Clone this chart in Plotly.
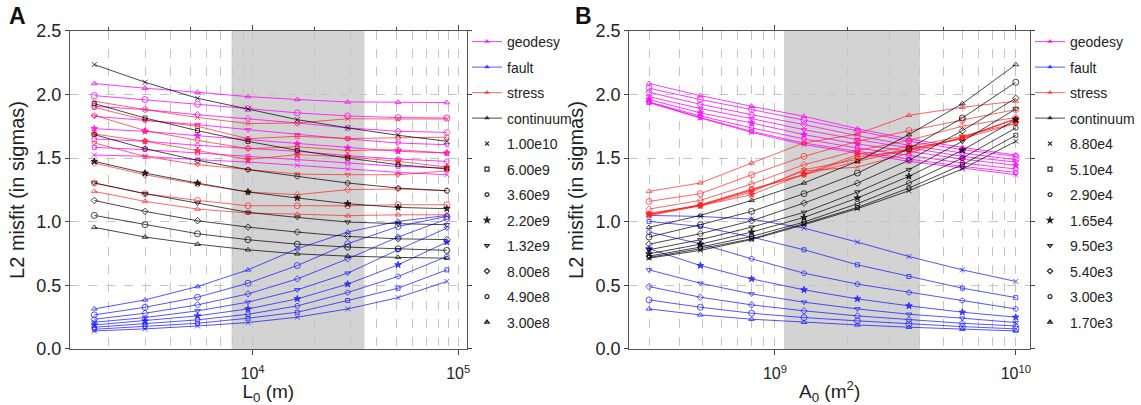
import plotly.graph_objects as go

# ---------------- data ----------------
L0_vals = [1.7e3, 3.0e3, 5.4e3, 9.5e3, 1.65e4, 2.9e4, 5.1e4, 8.8e4]
A0_vals = [3.0e8, 4.9e8, 8.0e8, 1.32e9, 2.2e9, 3.6e9, 6.0e9, 1.0e10]
L0_labels = ["1.70e3", "3.00e3", "5.40e3", "9.50e3", "1.65e4", "2.90e4", "5.10e4", "8.80e4"]
A0_labels = ["3.00e8", "4.90e8", "8.00e8", "1.32e9", "2.20e9", "3.60e9", "6.00e9", "1.00e10"]
datasets = ["geodesy", "fault", "stress", "continuum"]

# misfit[row = L0 index][col = A0 index]
geodesy = [
    [2.087, 1.992, 1.908, 1.829, 1.732, 1.651, 1.585, 1.525],
    [2.050, 1.961, 1.882, 1.798, 1.711, 1.633, 1.567, 1.514],
    [2.018, 1.924, 1.842, 1.764, 1.677, 1.601, 1.541, 1.488],
    [1.984, 1.890, 1.811, 1.724, 1.646, 1.580, 1.514, 1.470],
    [1.961, 1.856, 1.777, 1.685, 1.612, 1.554, 1.493, 1.444],
    [1.942, 1.832, 1.738, 1.651, 1.580, 1.520, 1.462, 1.415],
    [1.940, 1.819, 1.711, 1.619, 1.554, 1.493, 1.436, 1.388],
    [1.937, 1.816, 1.703, 1.606, 1.541, 1.475, 1.423, 1.370],
]
fault = [
    [0.315, 0.268, 0.234, 0.210, 0.189, 0.171, 0.155, 0.142],
    [0.386, 0.328, 0.281, 0.247, 0.221, 0.197, 0.176, 0.158],
    [0.491, 0.407, 0.347, 0.300, 0.260, 0.229, 0.202, 0.181],
    [0.622, 0.517, 0.433, 0.368, 0.315, 0.273, 0.242, 0.208],
    [0.788, 0.656, 0.551, 0.465, 0.394, 0.339, 0.289, 0.250],
    [0.919, 0.827, 0.709, 0.596, 0.510, 0.444, 0.381, 0.315],
    [1.003, 0.963, 0.880, 0.780, 0.662, 0.570, 0.478, 0.404],
    [1.050, 1.042, 1.021, 0.950, 0.840, 0.727, 0.622, 0.531],
]
stress = [
    [1.239, 1.305, 1.462, 1.620, 1.690, 1.837, 1.900, 1.948],
    [1.160, 1.221, 1.370, 1.514, 1.633, 1.717, 1.800, 1.882],
    [1.100, 1.168, 1.297, 1.449, 1.560, 1.640, 1.751, 1.820],
    [1.069, 1.126, 1.234, 1.409, 1.490, 1.575, 1.653, 1.772],
    [1.060, 1.126, 1.213, 1.375, 1.528, 1.590, 1.672, 1.777],
    [1.048, 1.126, 1.253, 1.370, 1.510, 1.560, 1.655, 1.810],
    [1.055, 1.134, 1.258, 1.370, 1.475, 1.567, 1.660, 1.808],
    [1.055, 1.134, 1.245, 1.400, 1.430, 1.540, 1.665, 1.808],
]
continuum = [
    [0.956, 1.050, 1.168, 1.305, 1.475, 1.685, 1.929, 2.236],
    [0.880, 0.977, 1.082, 1.221, 1.383, 1.575, 1.816, 2.097],
    [0.824, 0.906, 1.008, 1.147, 1.304, 1.483, 1.716, 1.971],
    [0.780, 0.859, 0.958, 1.074, 1.234, 1.410, 1.632, 1.887],
    [0.748, 0.824, 0.919, 1.034, 1.187, 1.357, 1.562, 1.803],
    [0.730, 0.801, 0.885, 0.998, 1.142, 1.305, 1.501, 1.738],
    [0.720, 0.788, 0.866, 0.985, 1.113, 1.265, 1.449, 1.680],
    [0.714, 0.775, 0.860, 0.977, 1.103, 1.244, 1.415, 1.633],
]
shade_A = [7.9e3, 3.5e4]
shade_B = [1.09e9, 4.0e9]

# ---------------- styles ----------------
matrices = {"geodesy": geodesy, "fault": fault, "stress": stress, "continuum": continuum}
colors = {"geodesy": "rgba(255,0,255,0.78)", "fault": "rgba(20,20,255,0.72)",
          "stress": "rgba(255,30,30,0.68)", "continuum": "rgba(0,0,0,0.72)"}
symbols = ["triangle-up-open", "circle-open", "diamond-open", "triangle-down-open",
           "star", "octagon-open", "square-open", "x-thin-open"]
sizes = [5, 6, 5, 5, 5, 5, 4, 5]
FONT = "Arial, Liberation Sans, sans-serif"

fig = go.Figure()

# panel A: x = L0, one line per A0 ; panel B: x = A0, one line per L0
for name in datasets:
    M = matrices[name]
    for j in range(len(A0_vals)):
        fig.add_trace(go.Scatter(
            x=L0_vals, y=[M[i][j] for i in range(len(L0_vals))],
            mode="lines+markers", xaxis="x", yaxis="y", showlegend=False,
            line=dict(color=colors[name], width=1),
            marker=dict(symbol=symbols[j], size=sizes[j], color=colors[name],
                        line=dict(color=colors[name], width=1))))
    for i in range(len(L0_vals)):
        fig.add_trace(go.Scatter(
            x=A0_vals, y=M[i], mode="lines+markers", xaxis="x2", yaxis="y2",
            showlegend=False,
            line=dict(color=colors[name], width=1),
            marker=dict(symbol=symbols[i], size=sizes[i], color=colors[name],
                        line=dict(color=colors[name], width=1))))

# legend entries
for leg, labels in (("legend", A0_labels), ("legend2", L0_labels)):
    xa = "x" if leg == "legend" else "x2"
    ya = "y" if leg == "legend" else "y2"
    for name in datasets:
        fig.add_trace(go.Scatter(
            x=[None], y=[None], mode="lines+markers", name=name, legend=leg,
            legendgroup=leg + name, xaxis=xa, yaxis=ya,
            line=dict(color=colors[name], width=1),
            marker=dict(symbol="triangle-up", size=5, color=colors[name])))
    for k in reversed(range(len(labels))):
        fig.add_trace(go.Scatter(
            x=[None], y=[None], mode="markers", name=labels[k], legend=leg,
            legendgroup=leg + labels[k], xaxis=xa, yaxis=ya,
            marker=dict(symbol=symbols[k], size=4, color="#222",
                        line=dict(color="#222", width=1.2))))

def minor_vals(lo, hi):
    out = []
    for e in range(lo, hi):
        for m in range(2, 10):
            out.append(m * 10 ** e)
    return out

grid = dict(showgrid=True, gridcolor="#c4c4c4", griddash="dash", gridwidth=1)
common_x = dict(type="log", ticks="outside", ticklen=5, tickcolor="#444",
                showline=True, linecolor="#555", linewidth=1.2, mirror="ticks",
                zeroline=False, automargin=False, ticklabelstandoff=5,
                tickfont=dict(size=16, color="#222", family=FONT),
                title_font=dict(size=19, color="#222", family=FONT), **grid)
common_y = dict(range=[0, 2.5], tickvals=[0, 0.5, 1.0, 1.5, 2.0, 2.5],
                ticktext=["0.0", "0.5", "1.0", "1.5", "2.0", "2.5"],
                ticks="outside", ticklen=4, tickcolor="#444", showline=True,
                linecolor="#555", linewidth=1.2, mirror="ticks", zeroline=False,
                automargin=False,
                tickfont=dict(size=18, color="#222", family=FONT),
                title=dict(text="L2 misfit (in sigmas)", standoff=6,
                           font=dict(size=20, color="#222", family=FONT)),
                domain=[0.1383, 0.9235], **grid)

fig.update_layout(
    width=1141, height=405, autosize=False,
    margin=dict(l=0, r=0, t=0, b=0, autoexpand=False),
    paper_bgcolor="white", plot_bgcolor="white",
    font=dict(family=FONT, color="#222"),
    xaxis=dict(domain=[0.0613, 0.4090], anchor="y", range=[3.112, 5.041],
               tickvals=[1e4, 1e5], ticktext=["10<sup>4</sup>", "10<sup>5</sup>"],
               minor=dict(tickmode="array", tickvals=minor_vals(3, 5), ticks="",
                          showgrid=True, gridcolor="#c4c4c4", griddash="dash"),
               title=dict(text="L<sub>0</sub> (m)", standoff=6), **common_x),
    xaxis2=dict(domain=[0.5515, 0.9027], anchor="y2", range=[8.395, 10.059],
                tickvals=[1e9, 1e10], ticktext=["10<sup>9</sup>", "10<sup>10</sup>"],
                minor=dict(tickmode="array", tickvals=minor_vals(8, 10), ticks="",
                           showgrid=True, gridcolor="#c4c4c4", griddash="dash"),
                title=dict(text="A<sub>0</sub> (m<sup>2</sup>)", standoff=6), **common_x),
    xaxis3=dict(overlaying="x", side="top", anchor="y", type="log", range=[3.112, 5.041],
                tickvals=[2e3, 5e3, 2e4, 5e4], ticks="outside", ticklen=3,
                tickcolor="#444", showticklabels=False, showgrid=False,
                showline=False, zeroline=False, automargin=False),
    xaxis4=dict(overlaying="x2", side="top", anchor="y2", type="log", range=[8.395, 10.059],
                tickvals=[5e8, 2e9, 5e9], ticks="outside", ticklen=3,
                tickcolor="#444", showticklabels=False, showgrid=False,
                showline=False, zeroline=False, automargin=False),
    yaxis=dict(anchor="x", **common_y),
    yaxis2=dict(anchor="x2", **common_y),
    legend=dict(x=467 / 1141, y=1 - 26 / 405, xanchor="left", yanchor="top",
                font=dict(size=14, color="#222", family=FONT), itemwidth=30,
                traceorder="grouped", tracegroupgap=4.3, bgcolor="rgba(0,0,0,0)"),
    legend2=dict(x=1030 / 1141, y=1 - 26 / 405, xanchor="left", yanchor="top",
                 font=dict(size=14, color="#222", family=FONT), itemwidth=30,
                 traceorder="grouped", tracegroupgap=4.3, bgcolor="rgba(0,0,0,0)"),
    shapes=[
        dict(type="rect", xref="x", yref="y", x0=shade_A[0], x1=shade_A[1], y0=0, y1=2.5,
             fillcolor="#d3d3d3", line=dict(width=0), layer="below"),
        dict(type="rect", xref="x2", yref="y2", x0=shade_B[0], x1=shade_B[1], y0=0, y1=2.5,
             fillcolor="#d3d3d3", line=dict(width=0), layer="below"),
    ],
    annotations=[
        dict(text="<b>A</b>", x=17 / 1141, y=1 - 16 / 405, xref="paper", yref="paper",
             xanchor="center", yanchor="middle", showarrow=False,
             font=dict(size=23, color="#111", family=FONT)),
        dict(text="<b>B</b>", x=583 / 1141, y=1 - 16 / 405, xref="paper", yref="paper",
             xanchor="center", yanchor="middle", showarrow=False,
             font=dict(size=23, color="#111", family=FONT)),
    ],
)

# dummy traces so overlay axes render
fig.add_trace(go.Scatter(x=[None], y=[None], xaxis="x3", yaxis="y", showlegend=False))
fig.add_trace(go.Scatter(x=[None], y=[None], xaxis="x4", yaxis="y2", showlegend=False))

fig.write_html("out.html")
